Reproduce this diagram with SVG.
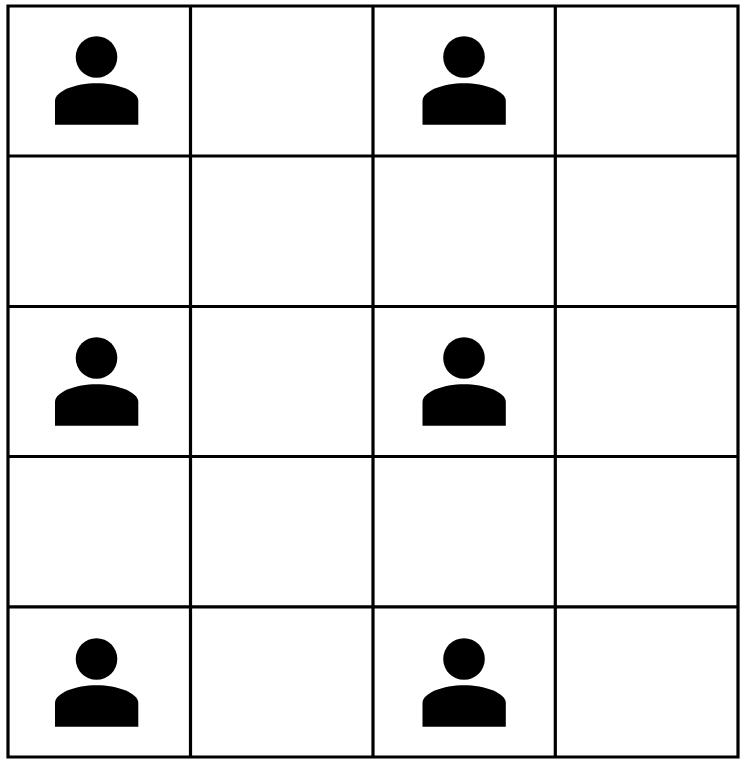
<svg xmlns="http://www.w3.org/2000/svg" width="745" height="764" viewBox="0 0 745 764">
<style>.g{fill:none;stroke:#000;stroke-width:3.2}</style>
<defs><g id="p"><circle cx="96.500" cy="57" r="20.800"/><path d="M55 124.700V101C55 91 76 83.300 96.500 83.300S138.300 91 138.300 101V124.700Z"/></g></defs>
<rect width="745" height="764" fill="#fff"/>
<g id="connectors"><path class="g" d="M8 6H738V757H8ZM190.500 6V757M373 6V757M555.300 6V757M8 156H738M8 306.500H738M8 456.500H738M8 606.800H738"/></g>
<g id="person1"><use href="#p"/></g>
<g id="person2"><use href="#p" x="367.500"/></g>
<g id="person3"><use href="#p" y="301"/></g>
<g id="person4"><use href="#p" x="367.500" y="301"/></g>
<g id="person5"><use href="#p" y="602"/></g>
<g id="person6"><use href="#p" x="367.500" y="602"/></g>
</svg>
